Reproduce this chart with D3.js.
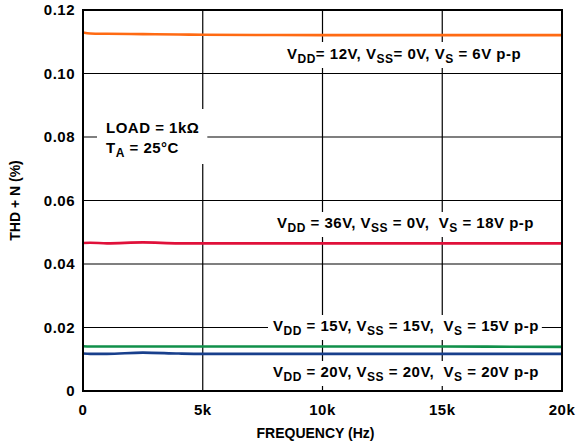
<!DOCTYPE html>
<html>
<head>
<meta charset="utf-8">
<script src="https://cdn.jsdelivr.net/npm/d3@7"></script>
<style>
  body { margin: 0; background: #fff; }
  text { font-family: "Liberation Sans", Arial, sans-serif; font-weight: bold; fill: #000; white-space: pre; }
  .wide { letter-spacing: 0.5px; }
</style>
</head>
<body>
<div id="viz"></div>
<script>
const width = 584;
const height = 446;
const marginLeft = 83;
const marginRight = 22;
const marginTop = 10;
const marginBottom = 55;

// frequency in Hz, THD+N in %
const freqs = [0, 300, 1000, 2500, 4000, 5000, 10000, 15000, 20000];
const orangeVals = [0.1129, 0.1126, 0.1125, 0.1124, 0.1123, 0.1122, 0.1121, 0.1121, 0.1121];
const redVals = [0.0466, 0.0467, 0.0465, 0.0468, 0.0465, 0.0465, 0.0465, 0.0465, 0.0465];
const greenVals = [0.0141, 0.0140, 0.0140, 0.0140, 0.0140, 0.0140, 0.0140, 0.0140, 0.0139];
const blueVals = [0.0118, 0.0117, 0.0117, 0.0121, 0.0118, 0.0117, 0.0117, 0.0117, 0.0117];

const xTicks = [0, 5000, 10000, 15000, 20000];
const xTickLabels = ['0', '5k', '10k', '15k', '20k'];
const yTicks = [0, 0.02, 0.04, 0.06, 0.08, 0.10, 0.12];
const yTickLabels = ['0', '0.02', '0.04', '0.06', '0.08', '0.10', '0.12'];

const series = [
  { values: orangeVals, color: '#ff6a13' },
  { values: redVals, color: '#e0103a' },
  { values: greenVals, color: '#10904a' },
  { values: blueVals, color: '#183f8c' },
];

const svg = d3.select('#viz')
  .append('svg')
  .attr('width', width)
  .attr('height', height);

const xScale = d3.scaleLinear()
  .domain([0, 20000])
  .range([marginLeft, width - marginRight]);

const yScale = d3.scaleLinear()
  .domain([0, 0.12])
  .range([height - marginBottom, marginTop]);

// grid
const grid = svg.append('g');
grid.selectAll('line.v')
  .data(xTicks)
  .enter()
  .append('line')
  .attr('x1', d => xScale(d)).attr('x2', d => xScale(d))
  .attr('y1', yScale(0)).attr('y2', yScale(0.12))
  .attr('stroke', '#000').attr('stroke-width', 1.2);
grid.selectAll('line.h')
  .data(yTicks)
  .enter()
  .append('line')
  .attr('x1', xScale(0)).attr('x2', xScale(20000))
  .attr('y1', d => yScale(d)).attr('y2', d => yScale(d))
  .attr('stroke', '#000').attr('stroke-width', 1.2);

// white boxes go here, over the grid but under the curves
const boxes = svg.append('g');

// data lines
const line = d3.line()
  .x((d, i) => xScale(freqs[i]))
  .y(d => yScale(d))
  .curve(d3.curveMonotoneX);

svg.selectAll('path.series')
  .data(series)
  .enter()
  .append('path')
  .attr('d', d => line(d.values))
  .attr('fill', 'none')
  .attr('stroke', d => d.color)
  .attr('stroke-width', 2.6);

const labels = svg.append('g');

// label with subscripts: parts = [[text, isSub], ...]
function label(x, y, parts) {
  const t = labels.append('text')
    .attr('class', 'wide')
    .attr('x', x).attr('y', y)
    .attr('font-size', 15);
  let down = false;
  parts.forEach(p => {
    const s = t.append('tspan').text(p[0]);
    if (p[1]) {
      s.attr('font-size', 12).attr('dy', down ? 0 : 4);
      down = true;
    } else {
      s.attr('dy', down ? -4 : 0);
      down = false;
    }
  });
  return t;
}

// pad = [left, right, top, bottom]
function boxAround(nodes, pad) {
  const bb = nodes.map(n => n.node().getBBox());
  const x0 = d3.min(bb, b => b.x) - pad[0];
  const x1 = d3.max(bb, b => b.x + b.width) + pad[1];
  const y0 = d3.min(bb, b => b.y) - pad[2];
  const y1 = d3.max(bb, b => b.y + b.height) + pad[3];
  boxes.append('rect')
    .attr('x', x0).attr('y', y0)
    .attr('width', x1 - x0).attr('height', y1 - y0)
    .attr('fill', '#fff');
}

const l1 = label(287, 59, [['V'], ['DD', 1], ['= 12V, V'], ['SS', 1], ['= 0V, V'], ['S', 1], [' = 6V p-p']]);
boxAround([l1], [4, 4, 3, 2]);

const l0a = label(106, 133, [['LOAD = 1kΩ']]);
const l0b = label(106, 153, [['T'], ['A', 1], [' = 25°C']]);
boxAround([l0a, l0b], [9, 8, 10, 4]);

const l2 = label(277, 228, [['V'], ['DD', 1], [' = 36V, V'], ['SS', 1], [' = 0V,  V'], ['S', 1], [' = 18V p-p']]);
boxAround([l2], [4, 4, 2, 2]);

const l3 = label(273, 331, [['V'], ['DD', 1], [' = 15V, V'], ['SS', 1], [' = 15V,  V'], ['S', 1], [' = 15V p-p']]);
boxAround([l3], [5, 3, 2, 2]);

const l4 = label(273, 377, [['V'], ['DD', 1], [' = 20V, V'], ['SS', 1], [' = 20V,  V'], ['S', 1], [' = 20V p-p']]);
boxAround([l4], [5, 3, 2, 2]);

// frame
svg.append('rect')
  .attr('x', xScale(0)).attr('y', yScale(0.12))
  .attr('width', xScale(20000) - xScale(0))
  .attr('height', yScale(0) - yScale(0.12))
  .attr('fill', 'none')
  .attr('stroke', '#000')
  .attr('stroke-width', 2);

// tick labels
svg.selectAll('text.xt')
  .data(xTicks)
  .enter()
  .append('text')
  .attr('class', 'wide')
  .attr('x', d => xScale(d))
  .attr('y', height - marginBottom + 24)
  .attr('text-anchor', 'middle')
  .attr('font-size', 15)
  .text((d, i) => xTickLabels[i]);

svg.selectAll('text.yt')
  .data(yTicks)
  .enter()
  .append('text')
  .attr('class', 'wide')
  .attr('x', marginLeft - 8)
  .attr('y', d => yScale(d) + 5)
  .attr('text-anchor', 'end')
  .attr('font-size', 15)
  .text((d, i) => yTickLabels[i]);

// axis titles
svg.append('text')
  .attr('x', xScale(10000) - 7)
  .attr('y', 438)
  .attr('text-anchor', 'middle')
  .attr('font-size', 14)
  .text('FREQUENCY (Hz)');

svg.append('text')
  .attr('transform', `translate(20, ${yScale(0.06)}) rotate(-90)`)
  .attr('text-anchor', 'middle')
  .attr('font-size', 14)
  .text('THD + N (%)');
</script>
</body>
</html>
